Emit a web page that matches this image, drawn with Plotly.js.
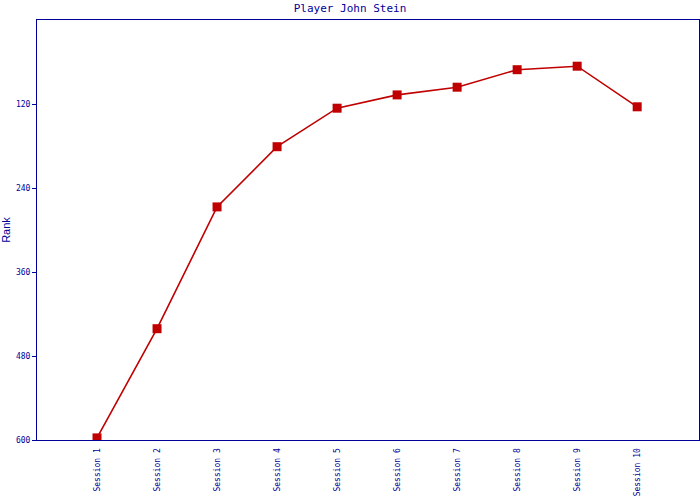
<!DOCTYPE html>
<html><head><meta charset="utf-8">
<script src="https://cdn.plot.ly/plotly-3.0.1.min.js"></script>
<style>body{margin:0;background:#fff}#c{width:700px;height:500px}</style>
</head><body><div id="c"></div>
<script>
const sessions = ["Session 1","Session 2","Session 3","Session 4","Session 5","Session 6","Session 7","Session 8","Session 9","Session 10"];
const rank = [597, 441, 267, 181, 126, 107, 96, 71, 66, 124];
const yTicks = [120, 240, 360, 480, 600];

const navy = "#000099";
Plotly.newPlot("c", [{
  x: sessions, y: rank, type: "scatter", mode: "lines+markers",
  line: {color: "#c00000", width: 1.6},
  marker: {symbol: "square", size: 9, color: "#c00000"},
  hoverinfo: "none"
}], {
  width: 700, height: 500,
  margin: {l: 37, r: 1, t: 20, b: 60},
  paper_bgcolor: "#fff", plot_bgcolor: "#fff",
  showlegend: false,
  title: {text: "Player John Stein", x: 0.5, xanchor: "center", y: 0.984, yanchor: "middle",
          font: {family: "DejaVu Sans Mono, monospace", size: 11, color: navy}},
  xaxis: {type: "category", range: [-1, 10.03], showgrid: false, zeroline: false,
          showline: true, linecolor: navy, linewidth: 1, mirror: true,
          ticks: "", ticklabelstandoff: 4, tickangle: -90,
          tickfont: {family: "DejaVu Sans Mono, monospace", size: 8, color: navy}},
  yaxis: {range: [600, 0], autorange: false, tickvals: yTicks, ticktext: yTicks.map(String),
          showgrid: false, zeroline: false, showline: true, linecolor: navy, linewidth: 1, mirror: true,
          ticks: "outside", ticklen: 4, tickcolor: navy,
          tickfont: {family: "DejaVu Sans Mono, monospace", size: 8, color: navy},
          title: {text: "Rank", standoff: 4, font: {family: "Liberation Sans, Arial, sans-serif", size: 11, color: navy}}}
}, {displayModeBar: false, staticPlot: true});
</script></body></html>
